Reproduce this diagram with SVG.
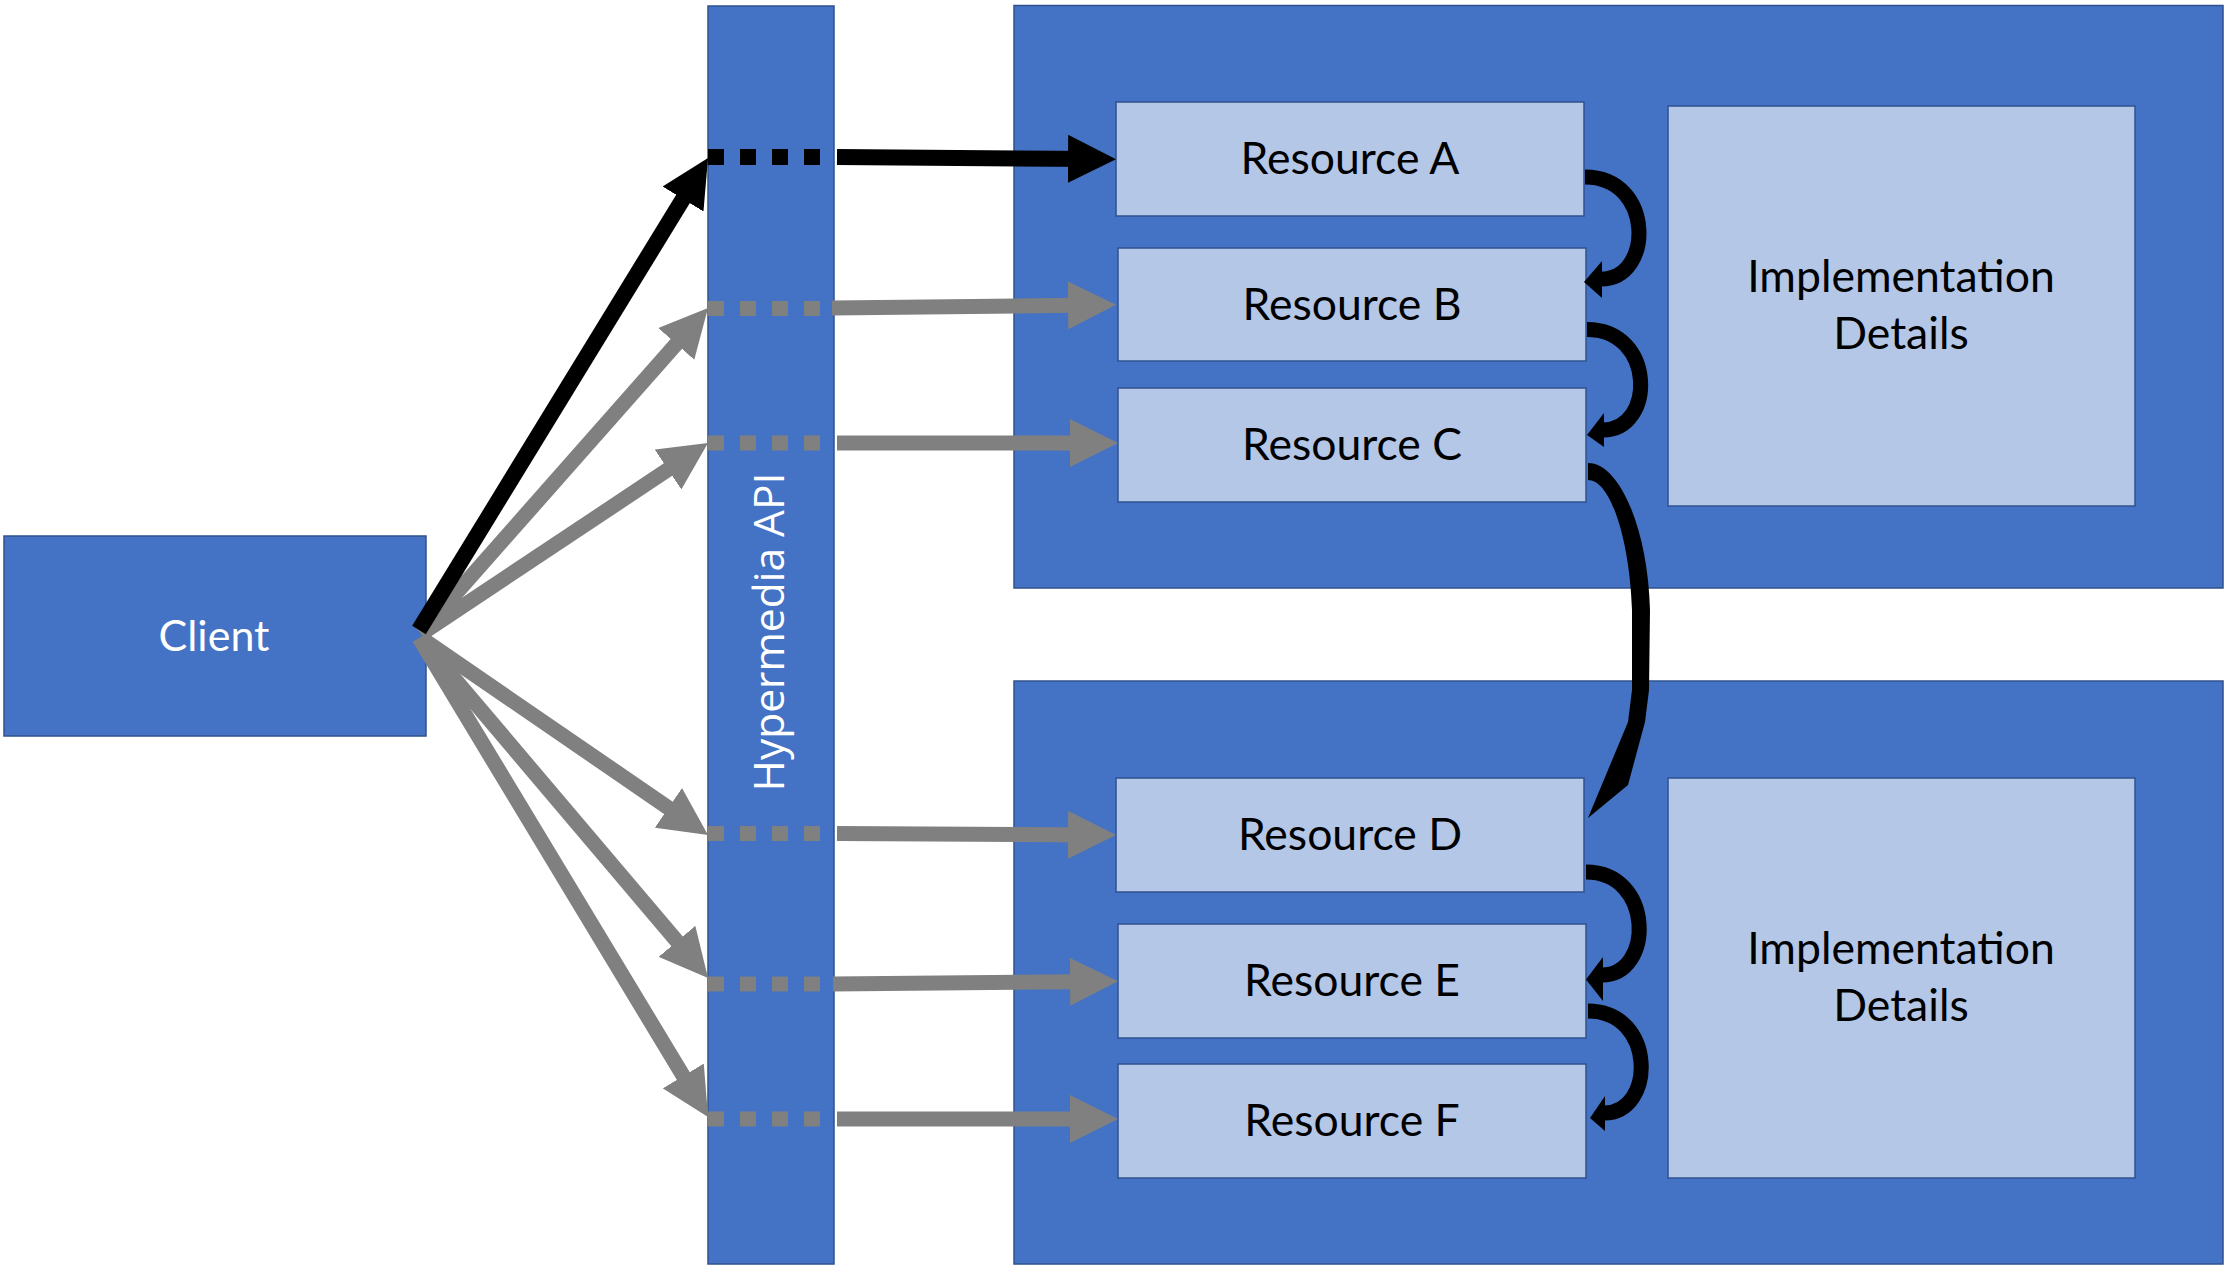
<svg xmlns="http://www.w3.org/2000/svg" width="2228" height="1270" viewBox="0 0 2228 1270">
<style>
.container{fill:#4472C4;stroke:#2F528F;stroke-width:1.5}
.res{fill:#B4C7E7;stroke:#2F528F;stroke-width:1.5}
.lbl{font-family:Lato,"Liberation Sans",sans-serif;font-size:44.5px;fill:#000;text-anchor:middle}
.wlbl{font-family:Lato,"Liberation Sans",sans-serif;font-size:43px;fill:#fff;text-anchor:middle}
.api{font-family:"Open Sans","Liberation Sans",sans-serif;font-size:42.5px;fill:#fff;text-anchor:middle}
.blk{stroke:#000;stroke-width:16;fill:none}
.gry{stroke:#808080;stroke-width:15;fill:none}
.dash{stroke-dasharray:16 16}
.curve{stroke:#000;stroke-width:15;fill:none}
.head{fill:#000}
</style>
<defs>
<marker id="ahB" markerUnits="userSpaceOnUse" viewBox="0 0 48 48" markerWidth="48" markerHeight="48" refX="28" refY="24" orient="auto"><path d="M0,0 L48,24 L0,48 Z" fill="#000"/></marker>
<marker id="ahG" markerUnits="userSpaceOnUse" viewBox="0 0 48 48" markerWidth="48" markerHeight="48" refX="28" refY="24" orient="auto"><path d="M0,0 L48,24 L0,48 Z" fill="#808080"/></marker>
</defs>

<g id="server-top">
<rect class="container" x="1014" y="5.5" width="1209" height="582.5"/>
</g>
<g id="server-bottom">
<rect class="container" x="1014" y="681" width="1209" height="583"/>
</g>

<g id="client">
<rect class="container" x="4" y="536" width="422" height="200"/>
<text class="wlbl" x="214" y="651">Client</text>
</g>

<g id="hypermedia-api">
<rect class="container" x="708" y="6" width="126" height="1258"/>
<text class="api" transform="translate(784,632) rotate(-90)" x="0" y="0">Hypermedia API</text>
</g>

<g id="resource-a"><rect class="res" x="1116" y="102" width="468" height="114"/><text class="lbl" x="1350" y="174">Resource A</text></g>
<g id="resource-b"><rect class="res" x="1118" y="248" width="468" height="113"/><text class="lbl" x="1352" y="320">Resource B</text></g>
<g id="resource-c"><rect class="res" x="1118" y="388" width="468" height="114"/><text class="lbl" x="1352" y="460">Resource C</text></g>
<g id="impl-top"><rect class="res" x="1668" y="106" width="467" height="400"/><text class="lbl" x="1901" y="292">Implementation</text><text class="lbl" x="1901" y="349">Details</text></g>

<g id="resource-d"><rect class="res" x="1116" y="778" width="468" height="114"/><text class="lbl" x="1350" y="850">Resource D</text></g>
<g id="resource-e"><rect class="res" x="1118" y="924" width="468" height="114"/><text class="lbl" x="1352" y="996">Resource E</text></g>
<g id="resource-f"><rect class="res" x="1118" y="1064" width="468" height="114"/><text class="lbl" x="1352" y="1136">Resource F</text></g>
<g id="impl-bottom"><rect class="res" x="1668" y="778" width="467" height="400"/><text class="lbl" x="1901" y="964">Implementation</text><text class="lbl" x="1901" y="1021">Details</text></g>

<g id="connectors">
<!-- client to API -->
<line class="gry" x1="421" y1="633" x2="694.8" y2="323" marker-end="url(#ahG)"/>
<line class="gry" x1="421" y1="634" x2="691.3" y2="454.1" marker-end="url(#ahG)"/>
<line class="gry" x1="421" y1="638" x2="691.5" y2="823.7" marker-end="url(#ahG)"/>
<line class="gry" x1="420" y1="638" x2="695.1" y2="962.7" marker-end="url(#ahG)"/>
<line class="gry" x1="419" y1="638" x2="697.7" y2="1099.9" marker-end="url(#ahG)"/>
<line class="blk" x1="419" y1="630" x2="697.6" y2="175.1" marker-end="url(#ahB)"/>

<!-- through API (dotted) -->
<line class="blk dash" x1="708" y1="157" x2="821" y2="157"/>
<line class="gry dash" x1="708" y1="308.5" x2="821" y2="308.5"/>
<line class="gry dash" x1="708" y1="443" x2="821" y2="443"/>
<line class="gry dash" x1="708" y1="833.5" x2="821" y2="833.5"/>
<line class="gry dash" x1="708" y1="984" x2="821" y2="984"/>
<line class="gry dash" x1="708" y1="1119" x2="821" y2="1119"/>

<!-- API to resources -->
<line class="blk" x1="837" y1="157" x2="1096" y2="159" marker-end="url(#ahB)"/>
<line class="gry" x1="832" y1="308" x2="1096" y2="305" marker-end="url(#ahG)"/>
<line class="gry" x1="837" y1="443" x2="1098" y2="443" marker-end="url(#ahG)"/>
<line class="gry" x1="837" y1="833.5" x2="1096" y2="835" marker-end="url(#ahG)"/>
<line class="gry" x1="833" y1="984" x2="1098" y2="981.5" marker-end="url(#ahG)"/>
<line class="gry" x1="837" y1="1119" x2="1098" y2="1119" marker-end="url(#ahG)"/>

<!-- resource to resource links -->
<path class="curve" d="M1585,177 C1654,177 1654,279 1601,279"/>
<polygon class="head" points="1584,282 1602,261 1602,298"/>
<path class="curve" d="M1587,329.5 C1655.6,329.5 1655.6,430 1603,430"/>
<polygon class="head" points="1587,435 1604,413 1604,447"/>
<path class="head" d="M1588,463 C1620,463 1648,530 1650,610 L1649,690 L1645,722 L1628,785 L1588,818 L1628,722 L1632,690 L1632,610 C1630,545 1612,480 1588,480 Z"/>
<path class="curve" d="M1586,872 C1654,872 1654,975 1602,975"/>
<polygon class="head" points="1586,979.5 1603,957 1603,1001"/>
<path class="curve" d="M1588,1011 C1656,1011 1656,1113 1604,1113"/>
<polygon class="head" points="1590,1118 1605,1096 1605,1131"/>
</g>
</svg>
